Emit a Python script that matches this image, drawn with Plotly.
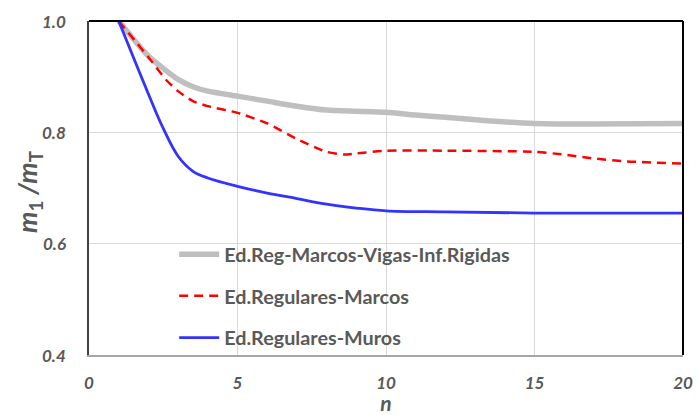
import plotly.graph_objects as go

n_gray = [1, 2, 3, 3.5, 4, 5, 6, 7, 8, 9, 10, 11, 12, 13.4, 15, 17, 20]
v_gray = [1.0, 0.937, 0.895, 0.882, 0.874, 0.865, 0.856, 0.847, 0.840, 0.838, 0.836, 0.831, 0.827, 0.821, 0.816, 0.815, 0.816]

n_red = [1, 2, 2.6, 3, 3.5, 4, 5, 6, 7, 8, 8.6, 9, 10, 12, 15, 16, 17, 18, 20]
v_red = [1.0, 0.935, 0.894, 0.874, 0.856, 0.847, 0.835, 0.816, 0.788, 0.765, 0.760, 0.762, 0.767, 0.767, 0.765, 0.760, 0.753, 0.748, 0.744]

n_blue = [1, 2, 2.5, 3, 3.5, 4, 5, 6, 7, 8, 9, 10, 12, 15, 20]
v_blue = [1.0, 0.869, 0.807, 0.757, 0.730, 0.718, 0.703, 0.691, 0.681, 0.671, 0.664, 0.659, 0.657, 0.655, 0.655]

names = ["Ed.Reg-Marcos-Vigas-Inf.Rigidas", "Ed.Regulares-Marcos", "Ed.Regulares-Muros"]

x_ticks = [0, 5, 10, 15, 20]
y_ticks = [0.4, 0.6, 0.8, 1.0]

FONT = "Lato, Open Sans, DejaVu Sans, sans-serif"
GREY_TXT = "#595959"

fig = go.Figure()
fig.add_trace(go.Scatter(x=n_gray, y=v_gray, mode="lines", name=f"<b>{names[0]}</b>", legendgroup="a",
                         line=dict(color="#bfbfbf", width=5.5, shape="spline", smoothing=0.6)))
fig.add_trace(go.Scatter(x=n_red, y=v_red, mode="lines", name=f"<b>{names[1]}</b>", legendgroup="b",
                         line=dict(color="#ff0000", width=2.5, dash="9px,6px", shape="spline", smoothing=0.6)))
fig.add_trace(go.Scatter(x=n_blue, y=v_blue, mode="lines", name=f"<b>{names[2]}</b>", legendgroup="c",
                         line=dict(color="#3333ff", width=2.8, shape="spline", smoothing=1.0)))

tickfont = dict(family=FONT, size=17, color=GREY_TXT)

# y tick labels drawn as annotations at the tick values (for exact placement)
ytick_annotations = [
    dict(text=f"<b><i>{t:.1f}</i></b>", xref="paper", yref="y", x=0, y=t,
         xanchor="right", yanchor="middle", xshift=-21, showarrow=False, font=tickfont)
    for t in y_ticks
]

fig.update_layout(
    width=697, height=415,
    margin=dict(l=89, r=14, t=21, b=60, autoexpand=False),
    paper_bgcolor="white", plot_bgcolor="white",
    showlegend=True,
    legend=dict(x=0.1434, y=0.36, xanchor="left", yanchor="top",
                bgcolor="rgba(0,0,0,0)", traceorder="grouped", tracegroupgap=13,
                font=dict(family=FONT, size=19.8, color=GREY_TXT),
                itemwidth=40),
    xaxis=dict(range=[0, 20], tickvals=x_ticks, ticktext=[f"<b><i>{t}</i></b>" for t in x_ticks],
               showgrid=True, gridcolor="#d9d9d9", gridwidth=1.3, automargin=False,
               showline=True, linecolor="#a6a6a6", linewidth=1.5, zeroline=False,
               ticks="", tickfont=tickfont, ticklabelstandoff=12, ticklabeloverflow="allow",
               title=dict(text="<b><i>n</i></b>", font=dict(family=FONT, size=21, color=GREY_TXT), standoff=16)),
    yaxis=dict(range=[0.4, 1.0], tickvals=y_ticks, showticklabels=False,
               showgrid=True, gridcolor="#d9d9d9", gridwidth=1.3, automargin=False,
               showline=True, linecolor="#404040", linewidth=1.5, zeroline=False, ticks=""),
    annotations=[dict(text="<b><i>m</i><sub>1</sub><i> /m</i><sub>T</sub></b>",
                      xref="paper", yref="paper", x=0, y=0.5, xanchor="center", yanchor="middle",
                      xshift=-61, yshift=-4, textangle=-90, showarrow=False,
                      font=dict(family=FONT, size=27, color=GREY_TXT))] + ytick_annotations,
    shapes=[
        dict(type="line", xref="paper", yref="paper", x0=0, x1=1, y0=1, y1=1, line=dict(color="black", width=2)),
        dict(type="line", xref="paper", yref="paper", x0=1, x1=1, y0=0, y1=1, line=dict(color="black", width=2)),
    ],
)

fig.write_html("out.html", config={"displayModeBar": False},
               post_script="document.body.style.margin='0';document.body.style.overflow='hidden';")
